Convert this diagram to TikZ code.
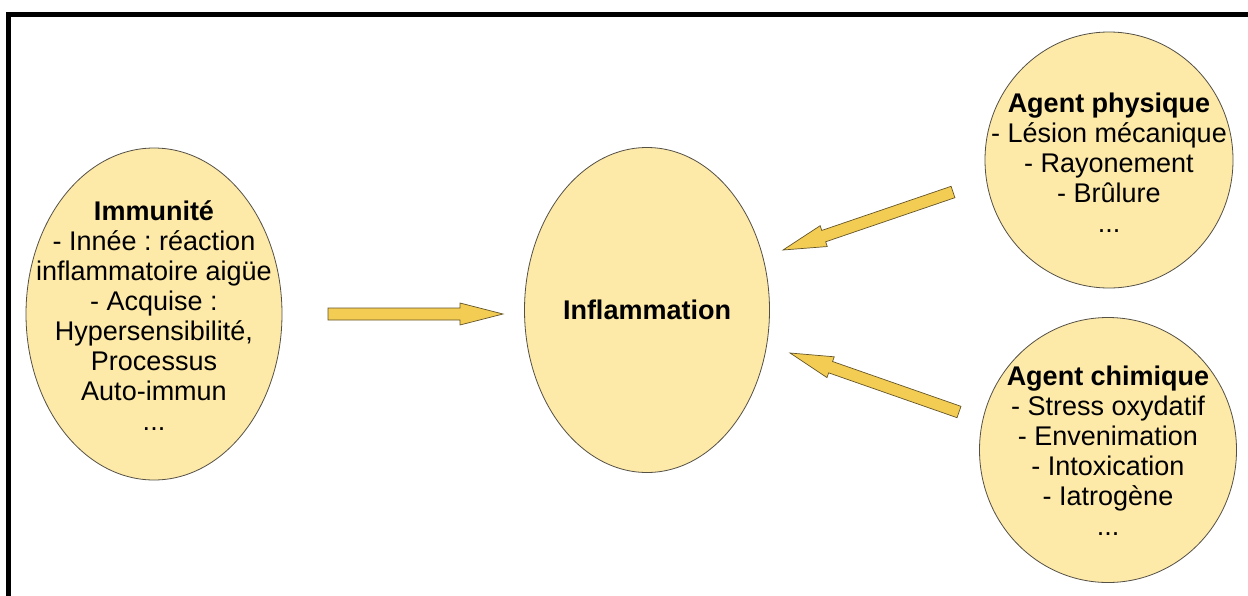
\documentclass[tikz,border=0pt]{standalone}
\usepackage{fontspec}
\setmainfont{Liberation Sans}
\frenchspacing
\usetikzlibrary{shapes.geometric,calc}
\definecolor{bubblefill}{RGB}{253,233,168}
\definecolor{bubbleedge}{RGB}{85,80,70}
\definecolor{arrfill}{RGB}{243,204,84}
\definecolor{arredge}{RGB}{100,85,40}
\newcommand\fatarrow[2]{%
  \coordinate (hb) at ($(#2)!43pt!(#1)$);
  \draw[fatarr] ($(#1)!6pt!90:(#2)$) -- ($(hb)!6pt!-90:(#1)$) -- ($(hb)!11pt!-90:(#1)$) -- (#2)
    -- ($(hb)!11pt!90:(#1)$) -- ($(hb)!6pt!90:(#1)$) -- ($(#1)!6pt!-90:(#2)$) -- cycle;}
\begin{document}
\begin{tikzpicture}[x=1pt,y=-1pt,
  bub/.style={ellipse, draw=bubbleedge, line width=0.8pt, fill=bubblefill, inner sep=0pt},
  txt/.style={align=center, inner sep=0pt, font=\fontsize{27}{30}\selectfont},
  fatarr/.style={fill=arrfill, draw=arredge, line width=0.7pt, line join=miter}]
\useasboundingbox (0,0) rectangle (1248,595);
\fill[white] (0,0) rectangle (1248,595);
% frame
\draw[line width=5pt, line join=miter] (8.5,620) -- (8.5,14.5) -- (1270,14.5);
% bubbles
\node[bub, minimum width=256pt, minimum height=332pt] (imm) at (154,314) {};
\node[txt] (immt) at ($(imm.center)+(0,2)$) {\textbf{Immunité}\\- Innée : réaction\\inflammatoire aigüe\\- Acquise :\\Hypersensibilité,\\Processus\\Auto-immun\\...};
\node[bub, minimum width=245pt, minimum height=325pt] (infl) at (647,310) {};
\node[txt] (inflt) at (infl.center) {\textbf{Inflammation}};
\node[bub, minimum width=248pt, minimum height=256pt] (phys) at (1109,160) {};
\node[txt] (physt) at ($(phys.center)+(0,3)$) {\textbf{Agent physique}\\- Lésion mécanique\\- Rayonement\\- Brûlure\\...};
\node[bub, minimum width=257pt, minimum height=265pt] (chim) at (1108,450) {};
\node[txt] (chimt) at ($(chim.center)+(0,1)$) {\textbf{Agent chimique}\\- Stress oxydatif\\- Envenimation\\- Intoxication\\- Iatrogène\\...};
% arrows
\coordinate (a1t) at (328,314); \coordinate (a1h) at (503,314);
\coordinate (a2t) at (953,192); \coordinate (a2h) at (783,250);
\coordinate (a3t) at (959,412); \coordinate (a3h) at (790,353);
\fatarrow{a1t}{a1h}
\fatarrow{a2t}{a2h}
\fatarrow{a3t}{a3h}
\end{tikzpicture}
\end{document}
